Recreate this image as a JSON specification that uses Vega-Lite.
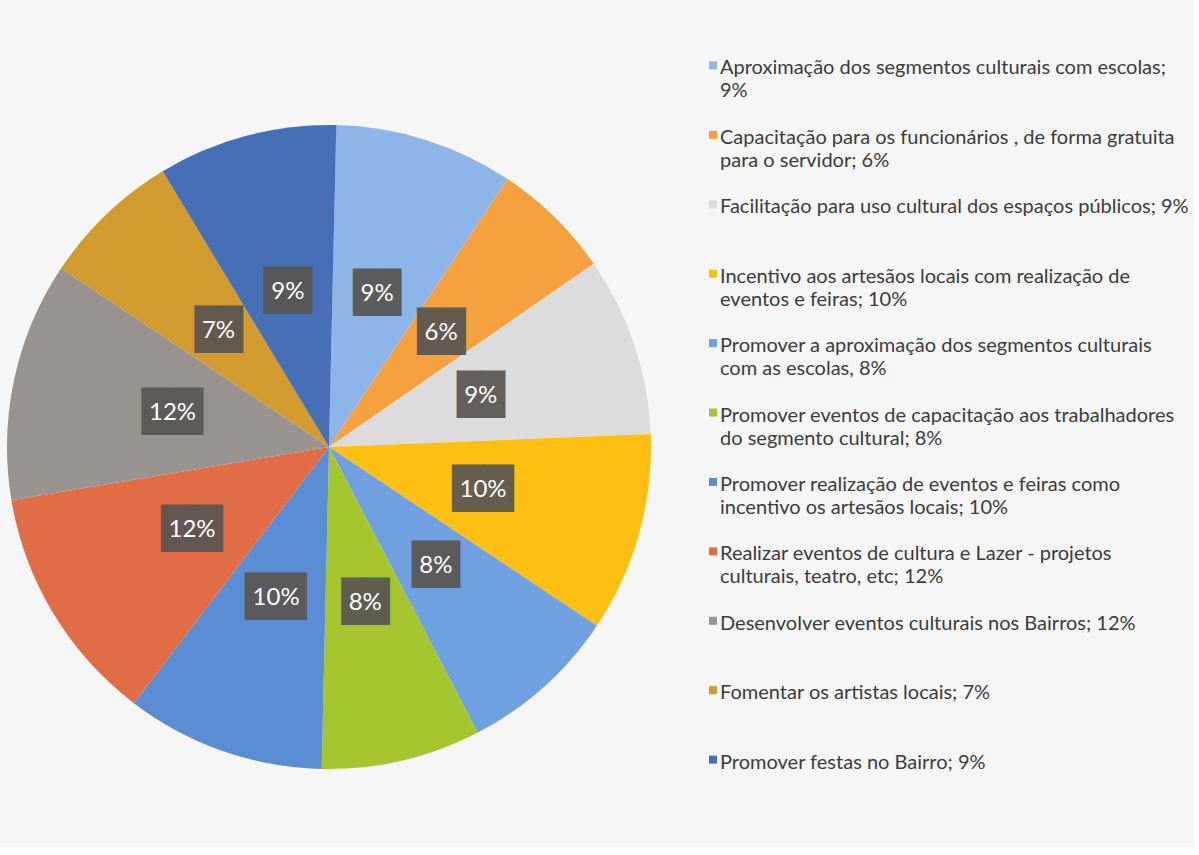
{
  "$schema": "https://vega.github.io/schema/vega-lite/v6.json",
  "background": "#f6f6f7",
  "padding": {"left": 7, "top": 52, "right": 5, "bottom": 5},
  "config": {"view": {"stroke": null}},
  "datasets": {
    "d": [
      {"n": 1, "label": "Aproximação dos segmentos culturais com escolas;\n9%", "v": 0.09},
      {"n": 2, "label": "Capacitação para os funcionários , de forma gratuita\npara o servidor; 6%", "v": 0.06},
      {"n": 3, "label": "Facilitação para uso cultural dos espaços públicos; 9%", "v": 0.09},
      {"n": 4, "label": "Incentivo aos artesãos locais com realização de\neventos e feiras; 10%", "v": 0.10},
      {"n": 5, "label": "Promover a aproximação dos segmentos culturais\ncom as escolas, 8%", "v": 0.08},
      {"n": 6, "label": "Promover eventos de capacitação aos trabalhadores\ndo segmento cultural; 8%", "v": 0.08},
      {"n": 7, "label": "Promover realização de eventos e feiras como\nincentivo os artesãos locais; 10%", "v": 0.10},
      {"n": 8, "label": "Realizar eventos de cultura e Lazer - projetos\nculturais, teatro, etc; 12%", "v": 0.12},
      {"n": 9, "label": "Desenvolver eventos culturais nos Bairros; 12%", "v": 0.12},
      {"n": 10, "label": "Fomentar os artistas locais; 7%", "v": 0.07},
      {"n": 11, "label": "Promover festas no Bairro; 9%", "v": 0.09}
    ]
  },
  "spacing": 57,
  "hconcat": [
    {
      "width": 644,
      "height": 790,
      "data": {"name": "d"},
      "encoding": {
        "theta": {"field": "v", "type": "quantitative", "stack": true, "scale": {"domain": [0, 1], "range": [0.0227, 6.3059]}},
        "order": {"field": "n", "type": "quantitative"}
      },
      "layer": [
        {"mark": {"type": "arc", "stroke": null},
          "encoding": {"color": {"field": "label", "type": "nominal", "sort": null, "legend": null,
            "scale": {"range": ["#8db5e8", "#f5a13f", "#dcdcde", "#fdc012", "#6fa0e0", "#a5c52f", "#5a8dd3", "#e06d45", "#99938f", "#d29b2e", "#466fb5"]}}}},
        {"mark": {"type": "text", "radius": 160, "font": "DejaVu Sans Mono", "fontSize": 40, "align": "center", "baseline": "middle", "opacity": 0.93},
          "encoding": {"color": {"value": "#5a5652"}, "text": {"condition": {"test": "datum.v < 0.1", "value": "██"}, "value": ""}}},
        {"mark": {"type": "text", "radius": 160, "font": "DejaVu Sans", "fontSize": 40, "align": "center", "baseline": "middle", "opacity": 0.93},
          "encoding": {"color": {"value": "#5a5652"}, "text": {"condition": {"test": "datum.v >= 0.1", "value": "██"}, "value": ""}}},
        {"mark": {"type": "text", "radius": 160, "font": "Lato", "fontSize": 24, "align": "center", "baseline": "middle"},
          "encoding": {"color": {"value": "#ffffff"}, "text": {"field": "v", "type": "quantitative", "format": ".0%"}}}
      ]
    },
    {
      "width": 10,
      "height": 790,
      "data": {"name": "d"},
      "encoding": {
        "y": {"field": "label", "type": "nominal", "sort": null, "axis": null,
          "scale": {"type": "point", "padding": 0.69, "align": 0.14}}
      },
      "layer": [
        {"mark": {"type": "point", "shape": "square", "filled": true, "size": 64, "opacity": 1},
          "encoding": {"color": {"field": "label", "type": "nominal", "sort": null, "legend": null}}},
        {"mark": {"type": "text", "align": "left", "baseline": "alphabetic", "dx": 7, "dy": 9, "font": "Lato", "fontSize": 20, "lineHeight": 23, "lineBreak": "\n"},
          "encoding": {"text": {"field": "label"}, "color": {"value": "#3c3c3c"}}}
      ]
    }
  ]
}
